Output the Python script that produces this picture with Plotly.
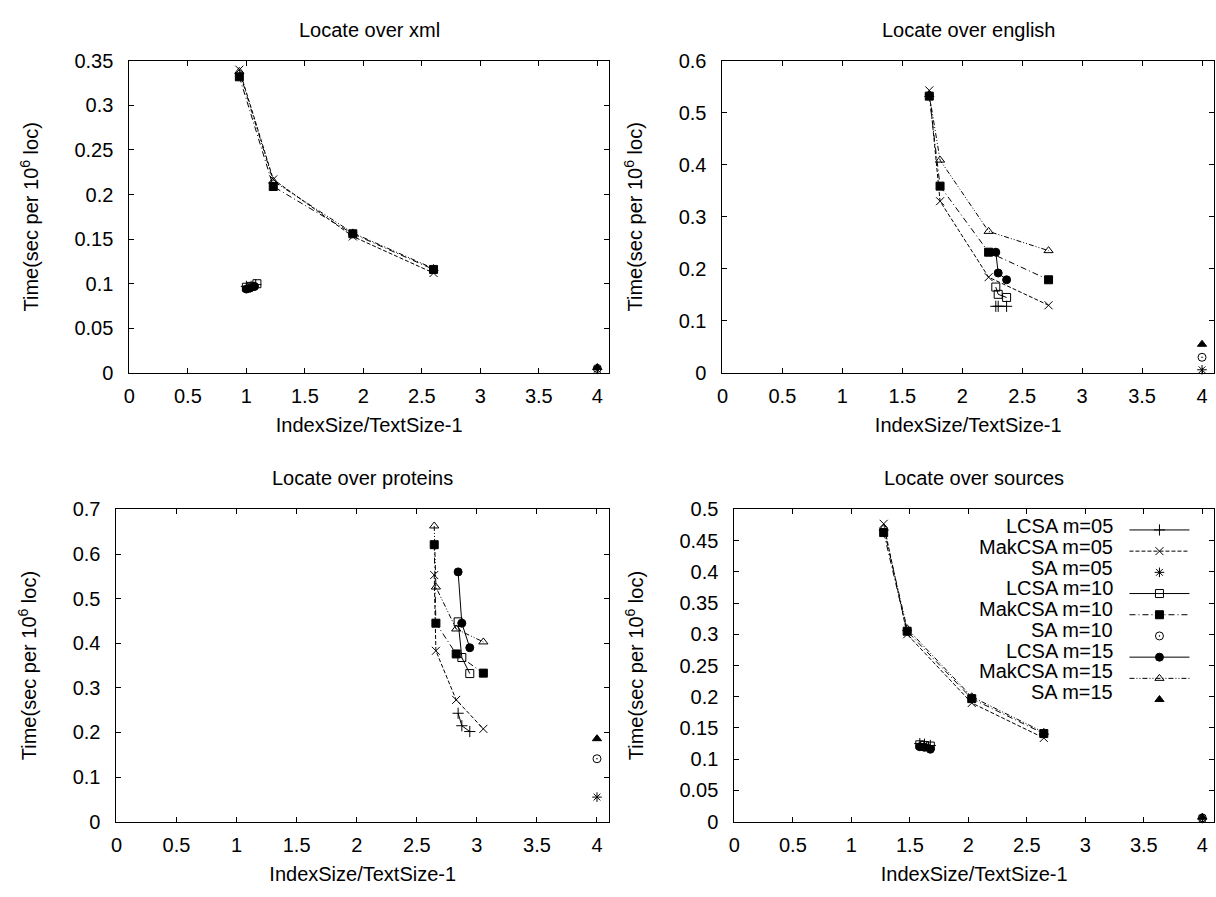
import plotly.graph_objects as go

# ---------------- data ----------------
SERIES = ["LCSA m=05", "MakCSA m=05", "SA m=05",
          "LCSA m=10", "MakCSA m=10", "SA m=10",
          "LCSA m=15", "MakCSA m=15", "SA m=15"]

X_TICKS = [0, 0.5, 1, 1.5, 2, 2.5, 3, 3.5, 4]

# --- Locate over xml ---
xml_lcsa05_x = [1.00, 1.04, 1.08]
xml_lcsa05_y = [0.097, 0.097, 0.099]
xml_mak_x = [0.94, 1.23, 1.91, 2.60]
xml_mak05_y = [0.340, 0.217, 0.153, 0.112]
xml_sa05 = ([4.0], [0.004])
xml_lcsa10_x = [1.00, 1.04, 1.09]
xml_lcsa10_y = [0.096, 0.097, 0.100]
xml_mak10_y = [0.332, 0.209, 0.156, 0.116]
xml_sa10 = ([4.0], [0.005])
xml_lcsa15_x = [1.00, 1.03, 1.07]
xml_lcsa15_y = [0.094, 0.095, 0.097]
xml_mak15_y = [0.338, 0.215, 0.157, 0.117]
xml_sa15 = ([4.0], [0.006])

# --- Locate over english ---
eng_lcsa_x = [2.28, 2.30, 2.37]
eng_lcsa05_y = [0.128, 0.128, 0.128]
eng_lcsa10_y = [0.165, 0.151, 0.145]
eng_lcsa15_y = [0.232, 0.192, 0.179]
eng_mak_x = [1.725, 1.815, 2.22, 2.72]
eng_mak05_y = [0.543, 0.330, 0.184, 0.130]
eng_mak10_y = [0.532, 0.359, 0.232, 0.179]
eng_mak15_y = [0.535, 0.409, 0.272, 0.235]
eng_sa05 = ([4.0], [0.006])
eng_sa10 = ([4.0], [0.030])
eng_sa15 = ([4.0], [0.055])

# --- Locate over proteins ---
pro_lcsa_x = [2.844, 2.875, 2.941]
pro_lcsa05_y = [0.243, 0.215, 0.202]
pro_lcsa10_y = [0.448, 0.368, 0.332]
pro_lcsa15_y = [0.560, 0.445, 0.390]
pro_mak_x = [2.645, 2.659, 2.828, 3.054]
pro_mak05_y = [0.553, 0.383, 0.273, 0.208]
pro_mak10_y = [0.621, 0.445, 0.376, 0.333]
pro_mak15_y = [0.663, 0.526, 0.432, 0.403]
pro_sa05 = ([4.0], [0.055])
pro_sa10 = ([4.0], [0.141])
pro_sa15 = ([4.0], [0.186])

# --- Locate over sources ---
src_lcsa_x = [1.585, 1.625, 1.675]
src_lcsa05_y = [0.125, 0.124, 0.122]
src_lcsa10_y = [0.123, 0.122, 0.121]
src_lcsa15_y = [0.120, 0.119, 0.116]
src_mak_x = [1.276, 1.477, 2.029, 2.645]
src_mak05_y = [0.477, 0.300, 0.190, 0.134]
src_mak10_y = [0.463, 0.305, 0.197, 0.141]
src_mak15_y = [0.470, 0.309, 0.200, 0.143]
src_sa05 = ([4.0], [0.005])
src_sa10 = ([4.0], [0.006])
src_sa15 = ([4.0], [0.007])

PANELS = [
    dict(title="Locate over xml", ymax=0.35, dtick=0.05, series=[
        (xml_lcsa05_x, xml_lcsa05_y), (xml_mak_x, xml_mak05_y), xml_sa05,
        (xml_lcsa10_x, xml_lcsa10_y), (xml_mak_x, xml_mak10_y), xml_sa10,
        (xml_lcsa15_x, xml_lcsa15_y), (xml_mak_x, xml_mak15_y), xml_sa15]),
    dict(title="Locate over english", ymax=0.6, dtick=0.1, series=[
        (eng_lcsa_x, eng_lcsa05_y), (eng_mak_x, eng_mak05_y), eng_sa05,
        (eng_lcsa_x, eng_lcsa10_y), (eng_mak_x, eng_mak10_y), eng_sa10,
        (eng_lcsa_x, eng_lcsa15_y), (eng_mak_x, eng_mak15_y), eng_sa15]),
    dict(title="Locate over proteins", ymax=0.7, dtick=0.1, series=[
        (pro_lcsa_x, pro_lcsa05_y), (pro_mak_x, pro_mak05_y), pro_sa05,
        (pro_lcsa_x, pro_lcsa10_y), (pro_mak_x, pro_mak10_y), pro_sa10,
        (pro_lcsa_x, pro_lcsa15_y), (pro_mak_x, pro_mak15_y), pro_sa15]),
    dict(title="Locate over sources", ymax=0.5, dtick=0.05, series=[
        (src_lcsa_x, src_lcsa05_y), (src_mak_x, src_mak05_y), src_sa05,
        (src_lcsa_x, src_lcsa10_y), (src_mak_x, src_mak10_y), src_sa10,
        (src_lcsa_x, src_lcsa15_y), (src_mak_x, src_mak15_y), src_sa15]),
]

X_TITLE = "IndexSize/TextSize-1"
Y_TITLE = "Time(sec per 10<sup>6</sup> loc)"

# ---------------- styles ----------------
W, H = 1216, 897
FONT = "Liberation Sans, Arial, sans-serif"
FS = 20

STYLES = [
    dict(mode="lines+markers", symbol="cross-thin-open", dash="solid"),
    dict(mode="lines+markers", symbol="x-thin-open", dash="4px,2px"),
    dict(mode="markers", symbol="asterisk-open", dash="solid"),
    dict(mode="lines+markers", symbol="square-open", dash="solid"),
    dict(mode="lines+markers", symbol="square", dash="6px,3px,1px,3px"),
    dict(mode="markers", symbol="circle-open-dot", dash="solid"),
    dict(mode="lines+markers", symbol="circle", dash="solid"),
    dict(mode="lines+markers", symbol="triangle-up-open", dash="5px,2px,1px,2px,1px,2px"),
    dict(mode="markers", symbol="triangle-up", dash="solid"),
]

# plot boxes in pixels: (left, right, top, bottom)
BOXES = [(124, 606, 51, 371), (720, 1214, 51, 371),
         (111, 606, 511, 831), (732, 1214, 511, 831)]

# legend rows (pixel centres) in the sources panel
LEG_TEXT_RIGHT = 1115
LEG_ROW0 = 528
LEG_STEP = 21.3

fig = go.Figure()
annotations = []

for i, (panel, box) in enumerate(zip(PANELS, BOXES)):
    xa = "x" if i == 0 else f"x{i+1}"
    ya = "y" if i == 0 else f"y{i+1}"
    l, r, t, b = box
    for j, (name, st) in enumerate(zip(SERIES, STYLES)):
        xs, ys = panel["series"][j]
        fig.add_trace(go.Scatter(
            x=xs, y=ys, name="", mode=st["mode"],
            hovertext=name, legendgroup=name,
            xaxis=xa, yaxis=ya, cliponaxis=False,
            showlegend=(i == 3),
            line=dict(color="black", width=1, dash=st["dash"]),
            marker=dict(symbol=st["symbol"], size=8, color="black",
                        line=dict(color="black", width=1)),
        ))
    axcommon = dict(showline=True, linecolor="black", linewidth=1, mirror="ticks",
                    ticks="inside", ticklen=5, tickcolor="black", tickwidth=1,
                    showgrid=False, zeroline=False,
                    tickfont=dict(family=FONT, size=FS, color="black"))
    xkey = "xaxis" if i == 0 else f"xaxis{i+1}"
    ykey = "yaxis" if i == 0 else f"yaxis{i+1}"
    fig.layout[xkey] = dict(axcommon, domain=[l / W, r / W], anchor=ya,
                            range=[0, 4.1], tickmode="array", tickvals=X_TICKS,
                            ticklabelstandoff=5,
                            title=dict(text=X_TITLE, standoff=12,
                                       font=dict(family=FONT, size=FS, color="black")))
    fig.layout[ykey] = dict(axcommon, domain=[1 - b / H, 1 - t / H], anchor=xa,
                            range=[0, panel["ymax"]], dtick=panel["dtick"], tick0=0,
                            ticklabelstandoff=11,
                            title=dict(text=Y_TITLE, standoff=30,
                                       font=dict(family=FONT, size=FS, color="black")))
    cx = (l + r) / 2
    annotations.append(dict(text=panel["title"], x=cx / W, y=1 - (t - 32) / H,
                            xref="paper", yref="paper", showarrow=False,
                            xanchor="center", yanchor="middle",
                            font=dict(family=FONT, size=FS, color="black")))

# legend labels: right-aligned text to the left of the samples (gnuplot style)
for k, name in enumerate(SERIES):
    annotations.append(dict(text=name, x=LEG_TEXT_RIGHT / W,
                            y=1 - (LEG_ROW0 + k * LEG_STEP) / H,
                            xref="paper", yref="paper", showarrow=False,
                            xanchor="right", yanchor="middle",
                            font=dict(family=FONT, size=FS, color="black")))

fig.update_layout(
    width=W, height=H, margin=dict(l=0, r=0, t=0, b=0),
    paper_bgcolor="white", plot_bgcolor="white",
    annotations=annotations,
    legend=dict(x=1124 / W, y=1 - (LEG_ROW0 - 12) / H, xanchor="left", yanchor="top",
                bgcolor="rgba(0,0,0,0)", itemwidth=60, borderwidth=0,
                font=dict(family=FONT, size=14, color="black"),
                tracegroupgap=0),
)

PAGE_JS = ("var d=document.getElementById('{plot_id}');"
           "document.documentElement.style.margin='0';"
           "document.documentElement.style.padding='0';"
           "document.documentElement.style.overflow='hidden';"
           "document.body.style.margin='0';"
           "document.body.style.padding='0';"
           "document.body.style.overflow='hidden';"
           "d.style.position='absolute';d.style.left='0px';d.style.top='0px';")

fig.write_html("out.html", config={"displayModeBar": False}, post_script=PAGE_JS)
